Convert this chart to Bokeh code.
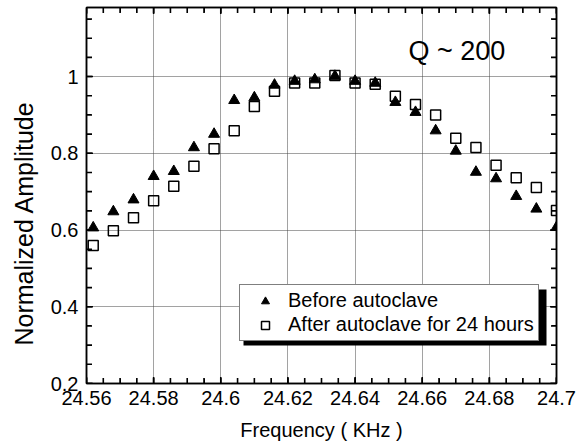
import math
from bokeh.plotting import figure
from bokeh.models import (Range1d, LinearAxis, FixedTicker, Legend, LegendItem,
                          Label, BoxAnnotation, Title)
from bokeh.embed import file_html
from bokeh.resources import INLINE

# ---- data ----
freq = [24.562, 24.568, 24.574, 24.580, 24.586, 24.592, 24.598, 24.604,
        24.610, 24.616, 24.622, 24.628, 24.634, 24.640, 24.646, 24.652,
        24.658, 24.664, 24.670, 24.676, 24.682, 24.688, 24.694, 24.700]
before = [0.606, 0.648, 0.679, 0.740, 0.753, 0.815, 0.850, 0.938,
          0.945, 0.978, 0.988, 0.992, 1.001, 0.988, 0.983, 0.933,
          0.907, 0.859, 0.806, 0.751, 0.734, 0.688, 0.655, 0.607]
after = [0.560, 0.598, 0.632, 0.676, 0.714, 0.766, 0.812, 0.859,
         0.922, 0.962, 0.983, 0.983, 1.003, 0.983, 0.980, 0.949,
         0.927, 0.900, 0.839, 0.815, 0.769, 0.736, 0.711, 0.651]

x_ticks = [24.56, 24.58, 24.60, 24.62, 24.64, 24.66, 24.68, 24.70]
x_tick_labels = ["24.56", "24.58", "24.6", "24.62", "24.64", "24.66", "24.68", "24.7"]
y_ticks = [0.2, 0.4, 0.6, 0.8, 1.0]
y_tick_labels = ["0.2", "0.4", "0.6", "0.8", "1"]
x_minor = [round(24.56 + 0.005 * i, 3) for i in range(29)]
y_minor = [round(0.2 + 0.05 * i, 2) for i in range(20)]

series_names = ["Before autoclave", "After autoclave for 24 hours"]
x_title = "Frequency ( KHz )"
y_title = "Normalized Amplitude"
annotation_text = "Q ~ 200"

FONT = "Liberation Sans"

xr = Range1d(24.56, 24.70)
yr = Range1d(0.2, 1.18)

p = figure(width=576, height=447, x_range=xr, y_range=yr,
           output_backend="svg", toolbar_location=None,
           min_border_left=86, min_border_right=20,
           min_border_top=7, min_border_bottom=64)
p.outline_line_color = "black"
p.outline_line_width = 1.5
p.background_fill_color = "white"
p.border_fill_color = "white"

xt = FixedTicker(ticks=x_ticks, minor_ticks=x_minor)
yt = FixedTicker(ticks=y_ticks, minor_ticks=y_minor)

def style_axis(ax):
    ax.axis_line_color = "black"
    ax.axis_line_width = 1.5
    ax.major_tick_in = 6
    ax.major_tick_out = 0
    ax.minor_tick_in = 5
    ax.minor_tick_out = 0
    ax.major_tick_line_color = "black"
    ax.minor_tick_line_color = "black"
    ax.major_label_text_font = FONT
    ax.major_label_text_color = "black"

xa = p.xaxis[0]
xa.ticker = xt
xa.major_label_overrides = dict(zip(x_ticks, x_tick_labels))
style_axis(xa)
xa.major_label_text_font_size = "20px"
xa.major_label_standoff = 7
xa.axis_label = x_title
xa.axis_label_text_font = FONT
xa.axis_label_text_font_size = "20px"
xa.axis_label_text_font_style = "normal"
xa.axis_label_text_color = "black"
xa.axis_label_standoff = 11

ya = p.yaxis[0]
ya.ticker = yt
ya.major_label_overrides = dict(zip(y_ticks, y_tick_labels))
style_axis(ya)
ya.major_label_text_font_size = "20px"
ya.major_label_standoff = 8

# y-axis title: starts 38px above the frame bottom, as in the reference
p.add_layout(Title(text=y_title, align="left", offset=38, vertical_align="top",
                   text_font=FONT, text_font_size="25px", text_color="black",
                   text_font_style="normal", standoff=15), "left")

top = LinearAxis(ticker=FixedTicker(ticks=x_ticks, minor_ticks=x_minor))
style_axis(top)
top.major_label_overrides = {t: "" for t in x_ticks}
top.major_label_standoff = 0
p.add_layout(top, "above")
right = LinearAxis(ticker=FixedTicker(ticks=y_ticks, minor_ticks=y_minor))
style_axis(right)
right.major_label_overrides = {t: "" for t in y_ticks}
right.major_label_standoff = 0
p.add_layout(right, "right")

for g in (p.xgrid[0], p.ygrid[0]):
    g.grid_line_color = "#444444"
    g.grid_line_dash = "1 1"
    g.grid_line_width = 1
p.xgrid[0].ticker = xt
p.ygrid[0].ticker = yt

# inward tick marks on all four sides, drawn as thin filled bars
# (each bar is centred on the frame edge, so half of it is clipped away)
for xs, ln in ((x_minor, 11), (x_ticks, 13)):
    for yedge in (yr.start, yr.end):
        p.rect(xs, [yedge] * len(xs), width=1.6, height=ln,
               width_units="screen", height_units="screen",
               fill_color="black", line_color=None)
for ys, ln in ((y_minor, 11), (y_ticks, 13)):
    for xedge in (xr.start, xr.end):
        p.rect([xedge] * len(ys), ys, width=ln, height=1.6,
               width_units="screen", height_units="screen",
               fill_color="black", line_color=None)

r_before = p.scatter(freq, before, marker="triangle", size=11,
                     fill_color="black", line_color="black")
r_after = p.scatter(freq, after, marker="square", size=10,
                    fill_color=None, line_color="black", line_width=1.5)

p.add_layout(Label(x=322, y=333, x_units="screen", y_units="screen",
                   text=annotation_text, text_font=FONT, text_font_size="27px",
                   text_color="black", text_baseline="alphabetic"))

# legend shadow
p.add_layout(BoxAnnotation(left=157, right=460, bottom=38, top=94,
                           left_units="screen", right_units="screen",
                           bottom_units="screen", top_units="screen",
                           fill_color="black", fill_alpha=1.0,
                           line_color=None))

legend = Legend(items=[LegendItem(label=series_names[0], renderers=[r_before]),
                       LegendItem(label=series_names[1], renderers=[r_after])],
                location=(153, 42))
legend.border_line_color = "black"
legend.border_line_width = 1.5
legend.background_fill_color = "white"
legend.background_fill_alpha = 1.0
legend.label_text_font = FONT
legend.label_text_font_size = "20px"
legend.label_text_color = "black"
legend.padding = 4
legend.spacing = 1
legend.margin = 0
legend.glyph_width = 42
legend.label_standoff = 2
legend.label_height = 22
p.add_layout(legend, "center")

open("out.html", "w").write(file_html(p, INLINE))
